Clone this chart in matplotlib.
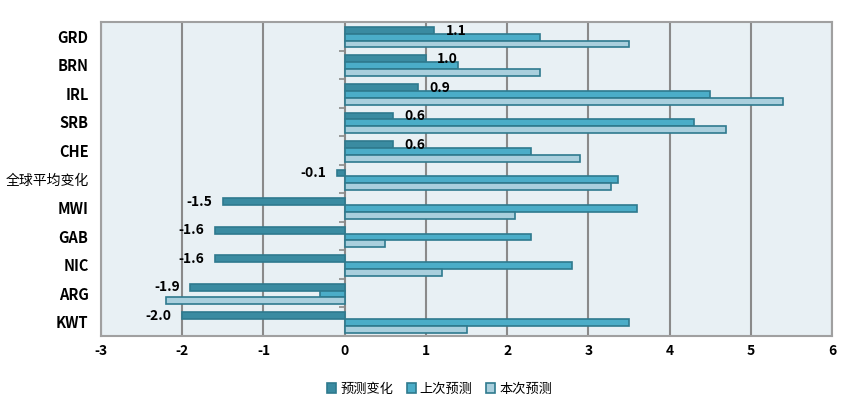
import numpy as np
import matplotlib
matplotlib.use("Agg")
import matplotlib.pyplot as plt

plt.rcParams['font.family'] = ['Noto Sans CJK SC', 'DejaVu Sans']

# data, top to bottom
categories = ["GRD", "BRN", "IRL", "SRB", "CHE", "全球平均变化", "MWI", "GAB", "NIC", "ARG", "KWT"]
change = [1.1, 1.0, 0.9, 0.6, 0.6, -0.1, -1.5, -1.6, -1.6, -1.9, -2.0]
previous = [2.4, 1.4, 4.5, 4.3, 2.3, 3.36, 3.6, 2.3, 2.8, -0.3, 3.5]
current = [3.5, 2.4, 5.4, 4.7, 2.9, 3.28, 2.1, 0.5, 1.2, -2.2, 1.5]
series_names = ["预测变化", "上次预测", "本次预测"]
xticks = [-3, -2, -1, 0, 1, 2, 3, 4, 5, 6]

colors = ["#3A8BA1", "#4BADC8", "#A9CFDD"]
edge = "#2F7A8E"

fig = plt.figure(figsize=(8.62, 4.17), dpi=100)
ax = fig.add_axes([0.1172, 0.1942, 0.8480, 0.7530])
ax.set_facecolor("#E8F0F4")

y = np.arange(len(categories))
h = 0.24
for i, (vals, c, name) in enumerate(zip([change, previous, current], colors, series_names)):
    ax.barh(y + (i - 1) * h + 0.03, vals, height=h, color=c, edgecolor=edge,
            linewidth=1.2, label=name, zorder=3)

# labels on the change bars
for yi, v in zip(y, change):
    if v >= 0:
        ax.text(v + 0.14, yi - 0.2, f"{v:.1f}", ha="left", va="center",
                fontsize=10, fontweight="bold", zorder=4)
    else:
        ax.text(v - 0.13, yi - 0.2, f"{v:.1f}", ha="right", va="center",
                fontsize=10, fontweight="bold", zorder=4)

ax.set_xlim(-3, 6)
ax.set_ylim(len(categories) - 0.5, -0.5)
ax.set_xticks(xticks)
ax.set_xticklabels([str(t) for t in xticks], fontsize=10, fontweight="bold")
ax.set_yticks(y)
ax.set_yticklabels(categories, fontsize=10.5, fontweight="bold")
for lab in ax.get_yticklabels():
    if not lab.get_text().isascii():
        lab.set_fontweight("medium")
        lab.set_fontsize(10)
ax.tick_params(axis="y", length=0, pad=9)
ax.tick_params(axis="x", length=0, pad=6)
ax.grid(axis="x", color="#8A8A8A", linewidth=1.5, zorder=1)
for s in ax.spines.values():
    s.set_color("#A0A0A0")
    s.set_linewidth(1.5)

# small tick marks on the zero axis between categories
sec = ax.secondary_yaxis(3 / 9)
sec.set_yticks(np.arange(len(categories) + 1) - 0.5)
sec.set_yticklabels([])
sec.tick_params(axis="y", length=4, width=1.2, color="#8A8A8A")
sec.spines["left"].set_visible(False)

leg = fig.legend(loc="center", bbox_to_anchor=(0.51, 0.067), ncol=3, frameon=False,
                 prop={"size": 9.5, "weight": "medium"}, handlelength=0.7,
                 handleheight=0.7, handletextpad=0.3, columnspacing=1.0)

fig.savefig("out.png", dpi=100)
